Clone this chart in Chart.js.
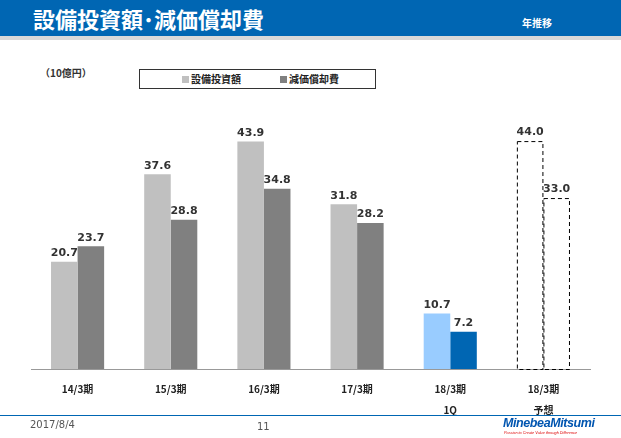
<!DOCTYPE html>
<html><head><meta charset="utf-8">
<script src="https://cdn.jsdelivr.net/npm/chart.js@4"></script>
<style>
body{margin:0;width:621px;height:438px;position:relative;font-family:"Noto Sans CJK JP",sans-serif;background:#fff;overflow:hidden}
#hdr{position:absolute;left:0;top:0;width:621px;height:36px;background:#0066b3}
#strip{position:absolute;left:0;top:36px;width:621px;height:4px;background:#d9d9d9}
#title{position:absolute;left:33px;top:2px;color:#fff;font-size:22px;font-weight:bold;letter-spacing:0px}
#sub{position:absolute;left:522px;top:15px;color:#fff;font-size:10px;font-weight:bold}
#unit{position:absolute;left:40px;top:65px;font-size:10px;font-weight:bold;color:#333}
#legend{position:absolute;left:139px;top:69px;width:235px;height:18px;border:1px solid #333;font-size:10px;font-weight:bold;color:#222}
.sw{display:inline-block;width:7px;height:7px;margin-right:2px}
#canvas-wrap{position:absolute;left:0;top:0;width:621px;height:438px}
#fline{position:absolute;left:0;top:415px;width:621px;height:1px;background:#0066b3}
#date{position:absolute;left:30px;top:419px;font-size:10px;color:#555;font-family:"DejaVu Sans",sans-serif}
#page{position:absolute;left:257px;top:421px;font-size:10px;color:#555;font-family:"DejaVu Sans",sans-serif}
#logo{position:absolute;left:503px;top:416px;font-family:"Liberation Sans",sans-serif;font-style:italic;font-weight:bold;color:#0055b0;font-size:12.5px;letter-spacing:-0.4px}
#tag{position:absolute;left:504px;top:431px;font-family:"Liberation Sans",sans-serif;font-size:3.8px;color:#d00;font-style:italic}
</style></head>
<body>
<div id="hdr"></div><div id="strip"></div>
<div id="title">設備投資額･減価償却費</div>
<div id="sub">年推移</div>
<div id="unit">（10億円）</div>
<div id="legend"><span style="position:absolute;left:42px;top:1px"><span class="sw" style="background:#c0c0c0"></span>設備投資額</span><span style="position:absolute;left:140px;top:1px"><span class="sw" style="background:#808080"></span>減価償却費</span></div>
<div id="canvas-wrap"><canvas id="c" width="621" height="438"></canvas></div>
<div id="fline"></div>
<div id="date">2017/8/4</div>
<div id="page">11</div>
<div id="logo">MinebeaMitsumi</div>
<div id="tag">Passion to Create Value through Difference</div>
<script>
const categories = [["14/3期"], ["15/3期"], ["16/3期"], ["17/3期"], ["18/3期", "1Q"], ["18/3期", "予想"]];
const capex = [20.7, 37.6, 43.9, 31.8, 10.7, 44.0];
const depreciation = [23.7, 28.8, 34.8, 28.2, 7.2, 33.0];
const capexColors = ["#c0c0c0", "#c0c0c0", "#c0c0c0", "#c0c0c0", "#99ccff", "rgba(0,0,0,0)"];
const deprColors = ["#808080", "#808080", "#808080", "#808080", "#0066b3", "rgba(0,0,0,0)"];
const forecastIndex = 5;

const labelPlugin = {
  id: "labels",
  afterDatasetsDraw(chart) {
    const ctx = chart.ctx;
    ctx.save();
    chart.data.datasets.forEach((ds, di) => {
      chart.getDatasetMeta(di).data.forEach((bar, i) => {
        if (i === forecastIndex) {
          ctx.setLineDash([4, 3]);
          ctx.strokeStyle = "#000";
          ctx.lineWidth = 1;
          ctx.strokeRect(bar.x - bar.width / 2 + 0.5, bar.y + 0.5, bar.width - 1, bar.base - bar.y);
          ctx.setLineDash([]);
        }
        ctx.fillStyle = "#333";
        ctx.font = "bold 11px 'DejaVu Sans', sans-serif";
        ctx.textAlign = "center";
        ctx.textBaseline = "bottom";
        ctx.fillText(ds.data[i].toFixed(1), bar.x, bar.y - 3);
      });
    });
    ctx.restore();
  }
};

new Chart(document.getElementById("c"), {
  type: "bar",
  data: {
    labels: categories,
    datasets: [
      { label: "設備投資額", data: capex, backgroundColor: capexColors, categoryPercentage: 0.57, barPercentage: 1 },
      { label: "減価償却費", data: depreciation, backgroundColor: deprColors, categoryPercentage: 0.57, barPercentage: 1 }
    ]
  },
  options: {
    responsive: false,
    animation: false,
    layout: { padding: { left: 31, right: 31, top: 110, bottom: 15 } },
    plugins: { legend: { display: false }, tooltip: { enabled: false } },
    scales: {
      y: { display: false, min: 0, max: 50 },
      x: {
        grid: { display: false },
        border: { color: "#999", width: 1 },
        ticks: { color: "#222", font: { size: 10, weight: "bold", family: "'Noto Sans CJK JP', sans-serif", lineHeight: 2.1 }, padding: 2 }
      }
    }
  },
  plugins: [labelPlugin]
});
</script>
</body></html>
